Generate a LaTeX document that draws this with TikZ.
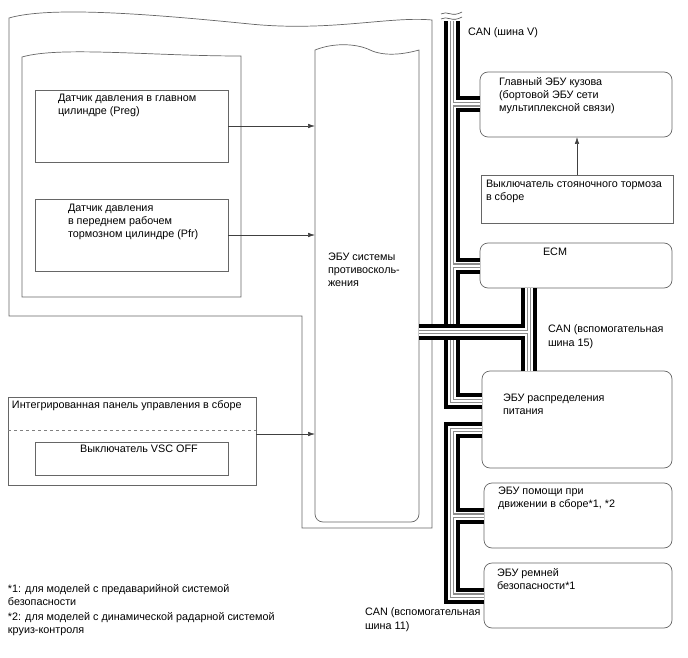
\documentclass[tikz,border=0pt]{standalone}
\usepackage{fontspec}
\setmainfont{Liberation Sans}
\usetikzlibrary{arrows.meta,positioning}

\begin{document}
\begin{tikzpicture}[
  x=1pt, y=-1pt,
  every node/.style={inner sep=0pt, outer sep=0pt},
  ecubox/.style={draw=black!60, rounded corners=8pt, line width=0.7pt, anchor=north west},
  swbox/.style={draw=black!60, line width=0.7pt, anchor=north west},
  frame/.style={draw=black!60, line width=0.7pt},
  txt/.style={font=\fontsize{10.8}{13.2}\selectfont, align=left, anchor=north west},
  sig/.style={-{Latex[length=7pt,width=4.5pt]}, draw=black!75, line width=0.6pt},
  sep/.style={draw=black!50, dashed, line width=0.7pt}
]
\useasboundingbox (0,0) rectangle (688,658);

\draw[frame] (9,18) .. controls (50,6) and (150,14) .. (250,24) .. controls (330,32) and (390,16) .. (432,20) -- (432,528) -- (302,528) -- (302,316) -- (9,316) -- cycle;
\draw[frame] (22,57) .. controls (60,46) and (150,56) .. (241,56) -- (241,297) -- (22,297) -- cycle;

\node[ecubox, minimum width=192pt, minimum height=65pt] (body) at (480,72) {};
\node[swbox, minimum width=192pt, minimum height=48pt] (park) at (481,175) {};
\node[ecubox, minimum width=192pt, minimum height=45pt] (ecm) at (480,243) {};
\node[ecubox, minimum width=190pt, minimum height=97pt] (pwr) at (482,371) {};
\node[ecubox, minimum width=188pt, minimum height=65pt, below=15pt of pwr.south east, anchor=north east] (assist) {};
\node[ecubox, minimum width=188pt, minimum height=65pt, below=15pt of assist.south east, anchor=north east] (belt) {};

\node[swbox, minimum width=193pt, minimum height=72pt] (preg) at (35,90) {};
\node[swbox, minimum width=193pt, minimum height=72pt] (pfr) at (35,199) {};
\node[swbox, minimum width=248pt, minimum height=88pt] (panel) at (8,397) {};
\node[swbox, minimum width=193pt, minimum height=33pt] (vscoff) at (35,442) {};
\node[anchor=north west, minimum width=104pt, minimum height=472pt] (ecu) at (315,50) {};

\draw[frame] (ecu.north west) .. controls (335,42) and (358,44) .. (370,50) .. controls (385,57) and (405,54) .. (ecu.north east) [rounded corners=8pt] -- (ecu.south east) -- (ecu.south west) -- (ecu.north west);
\draw[sep] ([yshift=-33pt]panel.north west) -- ([yshift=-33pt]panel.north east);

\coordinate (vtop) at (452,21);
\coordinate (vturn) at (452,401);
\coordinate (c15) at (529,332);
\coordinate (skidout) at (ecu.east |- c15);
\coordinate (c11) at (452,430);

\foreach \w/\c in {16/black,8/white,4.5/black!45,2/white}
  \draw[line width=\w pt,\c] (vtop) -- (vturn) -- (vturn -| pwr.west)
    (vtop |- body.west) -- (body.west) (vtop |- ecm.west) -- (ecm.west);
\foreach \w/\c in {16/black,8/white,4.5/black!45,2/white}
  \draw[line width=\w pt,\c] (skidout) -- (c15) (c15 |- ecm.south) -- (c15 |- pwr.north);
\foreach \w/\c in {16/black,8/white,4.5/black!45,2/white}
  \draw[line width=\w pt,\c] (c11 -| pwr.west) -- (c11) -- (c11 |- belt.west) -- (belt.west)
    (c11 |- assist.west) -- (assist.west);

\fill[white] (441,14) .. controls (447,10) and (452,18) .. (462,12) -- (462,17) .. controls (452,23) and (447,15) .. (441,19) -- cycle;
\draw[black!70, line width=0.6pt] (441,14) .. controls (447,10) and (452,18) .. (462,12);
\draw[black!70, line width=0.6pt] (441,19) .. controls (447,15) and (452,23) .. (462,17);

\draw[sig] (preg.east) -- (preg.east -| ecu.west);
\draw[sig] (pfr.east) -- (pfr.east -| ecu.west);
\draw[sig] ([yshift=7pt]panel.east) -- ([yshift=7pt]panel.east -| ecu.west);
\draw[sig] (park.north) -- (park.north |- body.south);

\node[txt] (bodytxt) at ([xshift=19pt,yshift=-5pt]body.north west) {Главный ЭБУ кузова\\(бортовой ЭБУ сети\\мультиплексной связи)};
\node[txt] (parktxt) at ([xshift=5pt,yshift=-5pt]park.north west) {Выключатель стояночного тормоза\\в сборе};
\node[txt, anchor=north] (ecmtxt) at ([xshift=-21pt,yshift=-5pt]ecm.north) {ECM};
\node[txt] (pregtxt) at ([xshift=23pt,yshift=-4pt]preg.north west) {Датчик давления в главном\\цилиндре (Preg)};
\node[txt] (pfrtxt) at ([xshift=33pt,yshift=-5pt]pfr.north west) {Датчик давления\\в переднем рабочем\\тормозном цилиндре (Pfr)};
\node[txt] (ecutxt) at (328,253) {ЭБУ системы\\противосколь-\\жения};
\node[txt] (paneltxt) at ([xshift=4pt,yshift=-4pt]panel.north west) {Интегрированная панель управления в сборе};
\node[txt, anchor=north] (vsctxt) at ([xshift=7.5pt,yshift=-3pt]vscoff.north) {Выключатель VSC OFF};
\node[txt] (pwrtxt) at ([xshift=21pt,yshift=-23pt]pwr.north west) {ЭБУ распределения\\питания};
\node[txt] (assisttxt) at ([xshift=14pt,yshift=-4pt]assist.north west) {ЭБУ помощи при\\движении в сборе*1, *2};
\node[txt] (belttxt) at ([xshift=13pt,yshift=-5pt]belt.north west) {ЭБУ ремней\\безопасности*1};
\node[txt] (canv) at (468,28) {CAN (шина V)};
\node[txt] (can15) at (548,325) {CAN (вспомогательная\\шина 15)};
\node[txt] (can11) at (365,608) {CAN (вспомогательная\\шина 11)};
\node[txt] (note1) at (8,584) {*1: для моделей с предаварийной системой\\безопасности};
\node[txt] (note2) at (8,612) {*2: для моделей с динамической радарной системой\\круиз-контроля};
\end{tikzpicture}
\end{document}
